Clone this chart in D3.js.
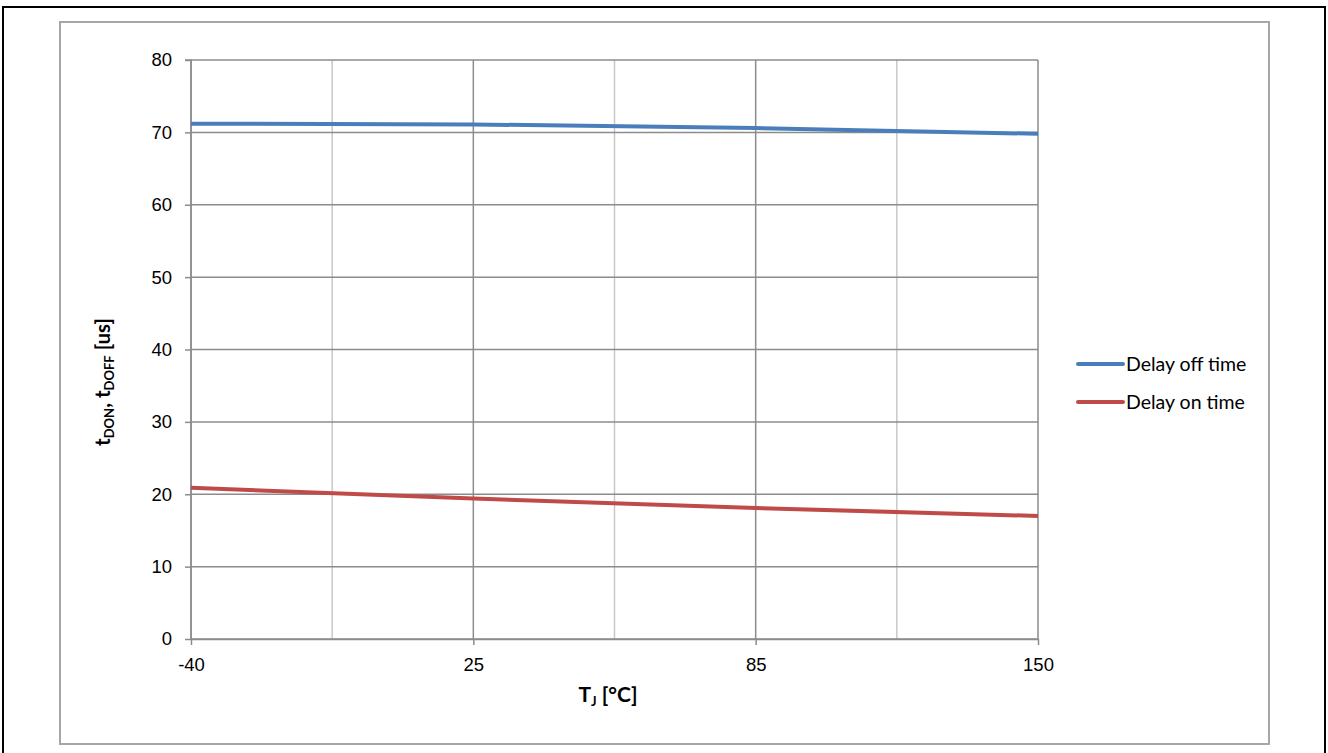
<!DOCTYPE html>
<html>
<head>
<meta charset="utf-8">
<script src="https://cdn.jsdelivr.net/npm/d3@7"></script>
<style>
  body { margin: 0; background: #fff; }
  svg { display: block; font-family: Lato, "Open Sans", sans-serif; }
  .tick text { font-size: 18.5px; fill: #000; }
</style>
</head>
<body>
<div id="chart"></div>
<script>
// categories on the x axis (junction temperature, degC)
const temps = ["-40", "25", "85", "150"];
// delay times in us
const delayOff = [71.2, 71.1, 70.6, 69.8];
const delayOn = [20.9, 19.4, 18.1, 17.0];
const yTicks = [0, 10, 20, 30, 40, 50, 60, 70, 80];

const seriesNames = ["Delay off time", "Delay on time"];
const seriesColors = ["#4a7ebb", "#be4b48"];

const W = 1328, H = 753;
const margin = { top: 60, left: 191, right: 1328 - 1038, bottom: 753 - 639 };

const svg = d3.select("#chart").append("svg")
  .attr("width", W)
  .attr("height", H);

// outer frame
svg.append("rect")
  .attr("x", 3).attr("y", 7)
  .attr("width", 1322).attr("height", 800)
  .attr("fill", "none").attr("stroke", "#000").attr("stroke-width", 2);

// chart area border
svg.append("rect")
  .attr("x", 60).attr("y", 22)
  .attr("width", 1209).attr("height", 722)
  .attr("fill", "#fff").attr("stroke", "#a6a6a6").attr("stroke-width", 2);

const x = d3.scalePoint().domain(temps).range([margin.left, W - margin.right]);
const y = d3.scaleLinear().domain([0, 80]).range([H - margin.bottom, margin.top]);

const g = svg.append("g");

// minor vertical gridlines, halfway between categories
const mids = d3.pairs(temps).map(([a, b]) => (x(a) + x(b)) / 2);
g.selectAll(".minor")
  .data(mids)
  .enter().append("line")
  .attr("x1", (d) => d).attr("x2", (d) => d)
  .attr("y1", y(0)).attr("y2", y(80))
  .attr("stroke", "#c8c8c8").attr("stroke-width", 1.5);

// major vertical gridlines
g.selectAll(".major")
  .data(temps)
  .enter().append("line")
  .attr("x1", (d) => x(d)).attr("x2", (d) => x(d))
  .attr("y1", y(0)).attr("y2", y(80))
  .attr("stroke", "#8c8c8c").attr("stroke-width", 1.5);

// horizontal gridlines
g.selectAll(".hgrid")
  .data(yTicks)
  .enter().append("line")
  .attr("x1", x(temps[0])).attr("x2", x(temps[temps.length - 1]))
  .attr("y1", (d) => y(d)).attr("y2", (d) => y(d))
  .attr("stroke", "#8c8c8c").attr("stroke-width", 1.5);

// Y axis
const yAxis = svg.append("g")
  .attr("transform", `translate(${margin.left},0)`)
  .call(d3.axisLeft(y).tickValues(yTicks).tickSize(6).tickPadding(13));
yAxis.selectAll("line, path").attr("stroke", "#8c8c8c").attr("stroke-width", 1.5);
yAxis.select(".domain").attr("d", `M-6,${y(80)}H0V${y(0)}`);

// X axis
const xAxis = svg.append("g")
  .attr("transform", `translate(0,${y(0)})`)
  .call(d3.axisBottom(x).tickSize(6).tickPadding(14).tickSizeOuter(0));
xAxis.selectAll("line, path").attr("stroke", "#8c8c8c").attr("stroke-width", 1.5);
xAxis.selectAll("text").attr("dy", "0.65em");

// axis titles
svg.append("text")
  .attr("x", 608).attr("y", 702)
  .attr("text-anchor", "middle")
  .attr("font-weight", "bold").attr("font-size", 21)
  .html('T<tspan font-size="13" dy="4">J</tspan><tspan dy="-4"> [°C]</tspan>');

svg.append("text")
  .attr("transform", "translate(110,382) rotate(-90)")
  .attr("text-anchor", "middle")
  .attr("font-weight", "bold").attr("font-size", 20.5)
  .html('t<tspan font-size="13" dy="4">DON</tspan><tspan dy="-4">, t</tspan><tspan font-size="13" dy="4">DOFF</tspan><tspan dy="-4"> [us]</tspan>');

// series lines
const line = d3.line()
  .x((d, i) => x(temps[i]))
  .y((d) => y(d));

[delayOff, delayOn].forEach((vals, k) => {
  svg.append("path")
    .datum(vals)
    .attr("fill", "none")
    .attr("stroke", seriesColors[k])
    .attr("stroke-width", 4)
    .attr("stroke-linejoin", "round")
    .attr("d", line);
});

// legend
const legend = svg.append("g").attr("transform", "translate(1078,364)");
seriesNames.forEach((name, i) => {
  const row = legend.append("g").attr("transform", `translate(0,${i * 38})`);
  row.append("line")
    .attr("x1", 0).attr("x2", 45)
    .attr("stroke", seriesColors[i]).attr("stroke-width", 4)
    .attr("stroke-linecap", "round");
  row.append("text")
    .attr("x", 48).attr("y", 7)
    .attr("font-size", 19.5)
    .text(name);
});
</script>
</body>
</html>
